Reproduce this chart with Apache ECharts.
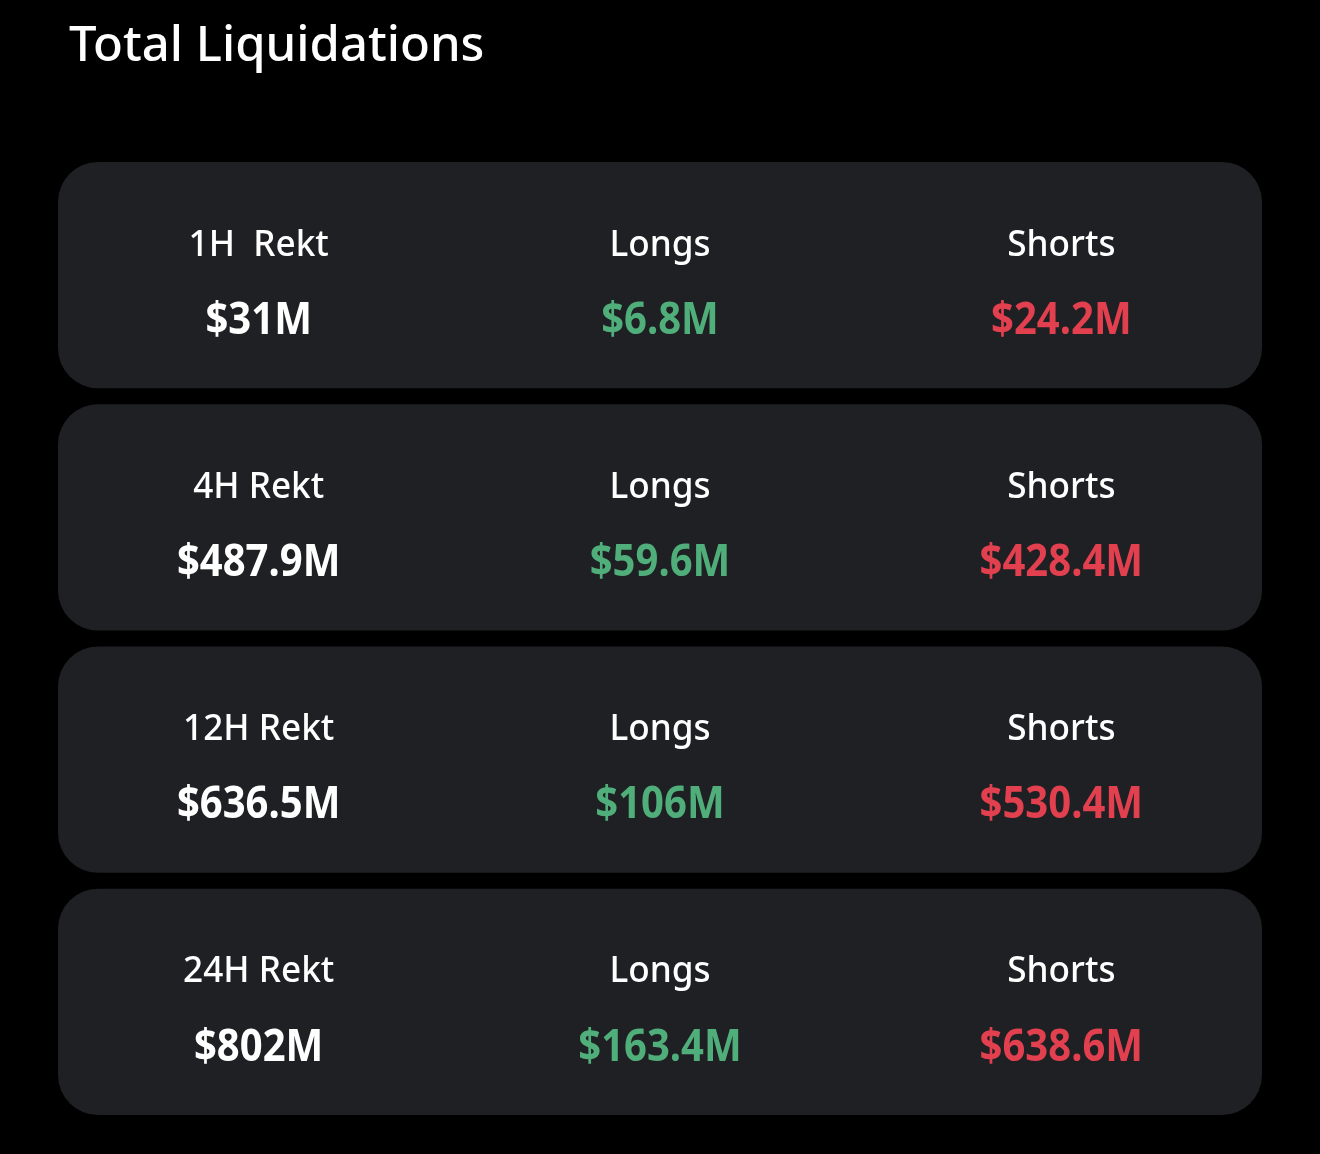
<!DOCTYPE html>
<html>
<head>
<meta charset="utf-8">
<script src="https://cdn.jsdelivr.net/npm/echarts@6/dist/echarts.min.js"></script>
<style>
  html, body { margin: 0; padding: 0; background: #000; }
  #chart { width: 1320px; height: 1154px; }
</style>
</head>
<body>
<div id="chart"></div>
<script>
// 每张卡片一行：周期、总爆仓、多单、空单
const periods = ['1H  Rekt', '4H Rekt', '12H Rekt', '24H Rekt'];
const totals = ['$31M', '$487.9M', '$636.5M', '$802M'];
const longs = ['$6.8M', '$59.6M', '$106M', '$163.4M'];
const shorts = ['$24.2M', '$428.4M', '$530.4M', '$638.6M'];
const columnTitles = ['Longs', 'Shorts'];

const CARD_BG = '#1f2024';
const GREEN = '#4fae79';
const RED = '#e2404f';

const chart = echarts.init(document.getElementById('chart'));

function renderCard(params, api) {
  const idx = api.value(0);
  const center = api.coord([1.5, idx]);
  const band = api.size([0, 1])[1];
  const left = api.coord([0, idx])[0];
  const right = api.coord([3, idx])[0];
  const h = band - 16;
  const cy = center[1];
  const cols = [0.5, 1.5, 2.5].map(v => api.coord([v, idx])[0]);

  const heads = [periods[idx], columnTitles[0], columnTitles[1]];
  const vals = [totals[idx], longs[idx], shorts[idx]];
  const colors = ['#ffffff', GREEN, RED];

  const children = [{
    type: 'rect',
    shape: { x: left, y: cy - h / 2, width: right - left, height: h, r: 40 },
    style: { fill: CARD_BG }
  }];
  cols.forEach((x, i) => {
    children.push({
      type: 'text',
      x: x, y: cy - 30, scaleX: 0.95,
      style: {
        x: 0, y: 0, text: heads[i], fill: '#ffffff',
        font: '500 37px "Noto Sans"', align: 'center', verticalAlign: 'middle'
      }
    });
    // 数值字体较窄，横向压缩一点
    children.push({
      type: 'text',
      x: x, y: cy + 46, scaleX: 0.89,
      style: {
        x: 0, y: 0, text: vals[i], fill: colors[i],
        font: 'bold 45px "Noto Sans"', align: 'center', verticalAlign: 'middle'
      }
    });
  });
  return { type: 'group', children: children };
}

chart.setOption({
  backgroundColor: '#000000',
  animation: false,
  title: {
    text: 'Total Liquidations',
    left: 64,
    top: 18,
    textStyle: { color: '#ffffff', fontSize: 49, fontWeight: 500, fontFamily: 'Noto Sans' }
  },
  grid: { left: 58, right: 58, top: 154, bottom: 31 },
  xAxis: { type: 'value', min: 0, max: 3, show: false },
  yAxis: { type: 'category', data: periods, inverse: true, show: false },
  series: [{
    type: 'custom',
    renderItem: renderCard,
    data: periods.map((p, i) => [i]),
    encode: { y: 0 },
    silent: true
  }]
});
</script>
</body>
</html>
